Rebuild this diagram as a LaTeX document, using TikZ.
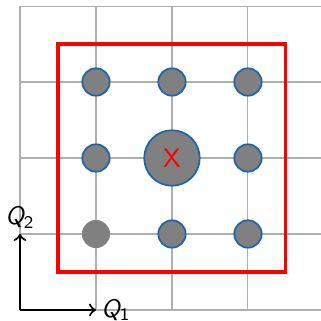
\documentclass[tikz,border=0pt]{standalone}
\usepackage{fontspec}
\definecolor{ptblue}{RGB}{28,100,172}
\definecolor{gridgray}{RGB}{175,175,175}
\begin{document}
\begin{tikzpicture}[
  site/.style={circle, fill=gray, draw=ptblue, line width=0.65pt, minimum size=0.36cm, inner sep=0pt},
  bigsite/.style={site, minimum size=0.73cm},
  plainsite/.style={circle, fill=gray, minimum size=0.37cm, inner sep=0pt},
  axisarrow/.style={->, line width=0.8pt, black},
  axislabel/.style={font=\fontsize{9.5}{11}\sffamily\itshape, inner sep=1.8pt},
  xmark/.style={font=\fontsize{10}{12}\sffamily, text=red},
  gridline/.style={gridgray, line width=0.4pt},
  boxline/.style={red, line width=1.15pt}
]
\useasboundingbox (-0.263,-0.145) rectangle (3.961,4.079);
\draw[gridline] (0,0) grid (4,4);
\draw[boxline] (0.5,0.5) rectangle (3.5,3.5);
\node[plainsite] (s11) at (1,1) {};
\node[site] (s21) at (2,1) {};
\node[site] (s31) at (3,1) {};
\node[site] (s12) at (1,2) {};
\node[bigsite] (s22) at (2,2) {};
\node[xmark] (x) at (s22.center) {X};
\node[site] (s32) at (3,2) {};
\node[site] (s13) at (1,3) {};
\node[site] (s23) at (2,3) {};
\node[site] (s33) at (3,3) {};
\coordinate (o) at (0,0);
\coordinate (e1) at (1,0);
\coordinate (e2) at (0,1);
\draw[axisarrow] (o) -- (e1);
\draw[axisarrow] (o) -- (e2);
\node[axislabel, anchor=west] (q1) at (e1) {Q\textsubscript{\upshape 1}};
\node[axislabel, anchor=south] (q2) at (e2) {Q\textsubscript{\upshape 2}};
\end{tikzpicture}
\end{document}
